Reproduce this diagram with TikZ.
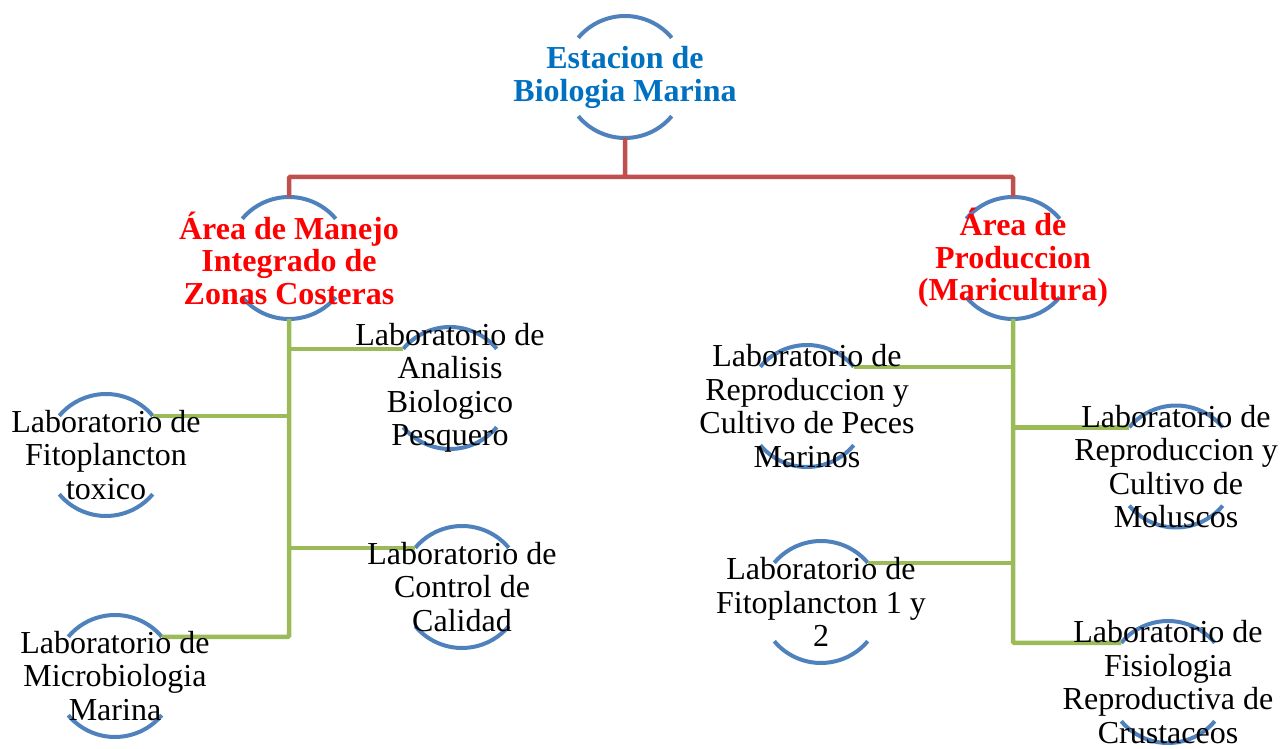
\documentclass[tikz,border=0pt]{standalone}
\usepackage{fontspec}
\setmainfont{Liberation Serif}
\usepackage{tikz}
\usetikzlibrary{calc,backgrounds}

\definecolor{arcoazul}{HTML}{4F81BD}
\definecolor{rojolinea}{HTML}{C0504D}
\definecolor{verdelinea}{HTML}{9BBB59}
\definecolor{titulo}{HTML}{0070C0}

\tikzset{
  lab/.style={align=center,inner sep=0pt,font=\fontsize{32}{33.5}\selectfont},
  area/.style={lab,text=red,font=\fontsize{32}{32.5}\selectfont\bfseries},
  arco/.style={line width=4pt,arcoazul},
  rojo/.style={line width=4.5pt,rojolinea,rounded corners=1pt},
  verde/.style={line width=4.5pt,verdelinea,rounded corners=1pt}
}

\begin{document}
\begin{tikzpicture}[x=1pt,y=1pt]
  \useasboundingbox (0,0) rectangle (1282,749);
  % nodos
  \node[lab,text=titulo,font=\fontsize{32}{33}\selectfont\bfseries] (est) at (625,672) {Estacion de\\Biologia Marina};
  \node[area] (mzc) at (289,491) {Área de Manejo\\Integrado de\\Zonas Costeras};
  \node[area] (prod) at (1013,491) {Área de\\Produccion\\(Maricultura)};
  \node[lab] (analisis) at (450,361) {Laboratorio de\\Analisis\\Biologico\\Pesquero};
  \node[lab] (calidad) at (462,162) {Laboratorio de\\Control de\\Calidad};
  \node[lab] (fitotox) at (106,294) {Laboratorio de\\Fitoplancton\\toxico};
  \node[lab] (microb) at (115,73) {Laboratorio de\\Microbiologia\\Marina};
  \node[lab] (peces) at (807,343) {Laboratorio de\\Reproduccion y\\Cultivo de Peces\\Marinos};
  \node[lab] (moluscos) at (1176,282.5) {Laboratorio de\\Reproduccion y\\Cultivo de\\Moluscos};
  \node[lab] (fito12) at (821,147) {Laboratorio de\\Fitoplancton 1 y\\2};
  \node[lab] (crust) at (1168,67) {Laboratorio de\\Fisiologia\\Reproductiva de\\Crustaceos};

  \begin{pgfonlayer}{background}
    % arcos de cada nodo
    \foreach \n in {est,mzc,prod,analisis,calidad,fitotox,microb,peces,moluscos,fito12,crust}{
      \draw[arco] ($(\n)+(40:61)$) arc[start angle=40,end angle=140,radius=61];
      \draw[arco] ($(\n)+(220:61)$) arc[start angle=220,end angle=320,radius=61];
      \coordinate (\n-ne) at ($(\n)+(40:61)$);
      \coordinate (\n-nw) at ($(\n)+(140:61)$);
      \coordinate (\n-n) at ($(\n)+(0,61)$);
      \coordinate (\n-s) at ($(\n)+(0,-61)$);
    }
    % lineas rojas
    \coordinate (jr) at (625,572);
    \draw[rojo] (est-s) -- (jr) -| (mzc-n);
    \draw[rojo] (jr) -| (prod-n);
    % lineas verdes
    \draw[verde] (mzc-s) -- (mzc |- microb-ne) -- (microb-ne);
    \draw[verde] (analisis-nw) -- (mzc |- analisis-nw);
    \draw[verde] (fitotox-ne) -- (mzc |- fitotox-ne);
    \draw[verde] (calidad-nw) -- (mzc |- calidad-nw);
    \draw[verde] (prod-s) -- (prod |- crust-nw) -- (crust-nw);
    \draw[verde] (peces-ne) -- (prod |- peces-ne);
    \draw[verde] (moluscos-nw) -- (prod |- moluscos-nw);
    \draw[verde] (fito12-ne) -- (prod |- fito12-ne);
  \end{pgfonlayer}
\end{tikzpicture}
\end{document}
